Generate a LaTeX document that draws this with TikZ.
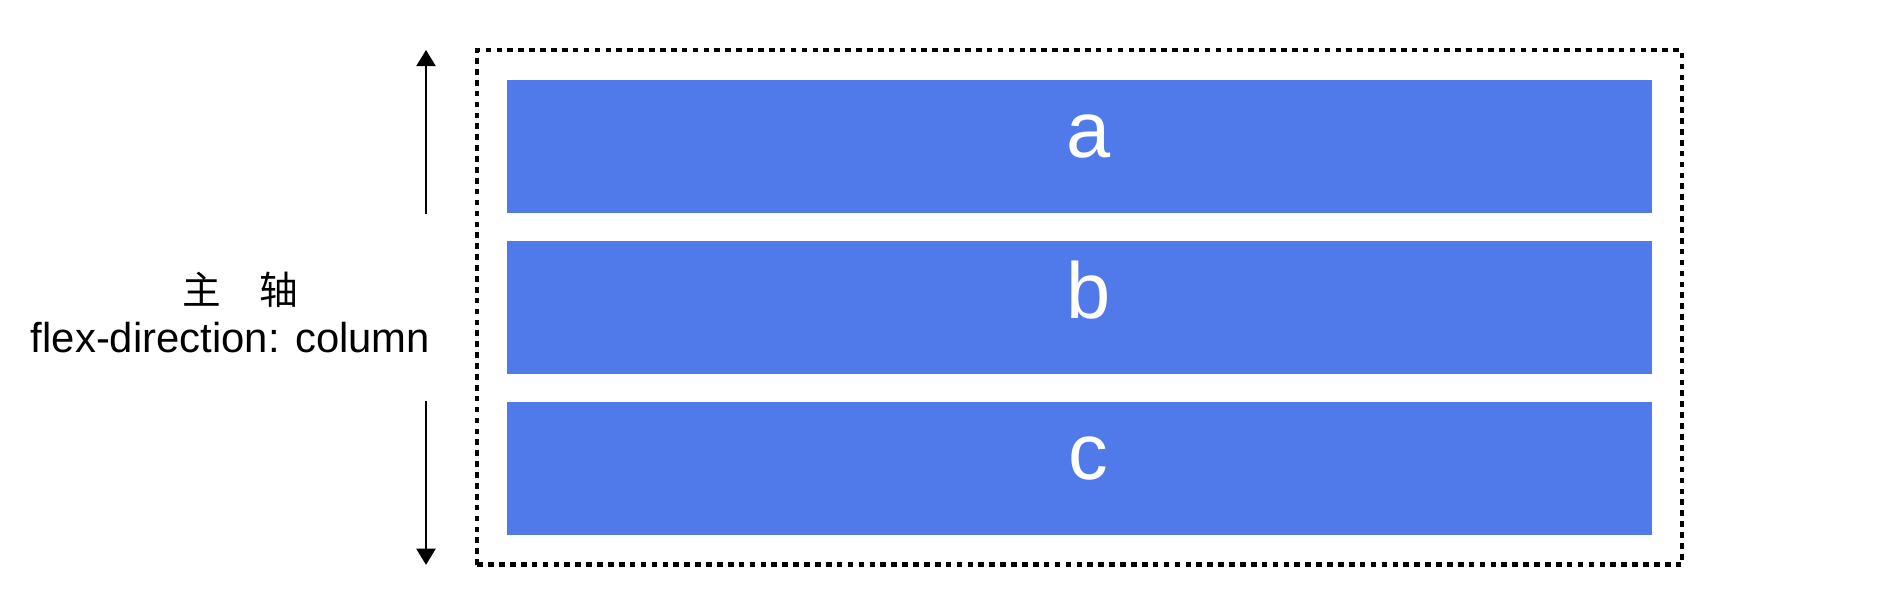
\documentclass[tikz,border=0pt]{standalone}
\usepackage{fontspec}
\setmainfont{Liberation Sans}
\newfontfamily\cjk{Noto Sans CJK SC}
\usepackage{tikz}
\usetikzlibrary{arrows.meta, positioning, fit}
\definecolor{itemblue}{RGB}{80,122,233}

\begin{document}
\begin{tikzpicture}[>={Triangle[length=4.6pt,width=5.4pt]},
    item/.style={fill=itemblue, text=white, minimum width=11.45cm, minimum height=1.33cm,
        inner sep=0pt, text height=0.22cm, text depth=0cm,
        execute at begin node={\hspace*{0.18cm}}, font=\fontsize{22.6}{26}\selectfont},
    box/.style={draw, line width=1.2pt, dash pattern=on 1.6pt off 1.5pt, inner sep=0.29cm},
    axisarrow/.style={->, line width=0.72pt}]
\useasboundingbox (0, 0) rectangle (18.91, 6.12);
\node [item] (a) at (10.795, 4.655) {a};
\node [item, below=0.265cm of a] (b) {b};
\node [item, below=0.265cm of b] (c) {c};
\node [box, fit=(a) (c)] (frame) {};
\coordinate (axis) at (4.26, 3.0);
\draw[axisarrow] (a.south -| axis) to ([yshift=-0.5pt]frame.north -| axis);
\draw[axisarrow] (c.north -| axis) to ([yshift=0.5pt]frame.south -| axis);
\node (main) at (2.40, 3.22) {\fontsize{11}{13}\cjk 主\hspace{1em}轴};
\node [anchor=base] (dir) at (2.305, 2.59) {\fontsize{11.9}{14}\selectfont flex-direction: column};
\end{tikzpicture}
\end{document}
